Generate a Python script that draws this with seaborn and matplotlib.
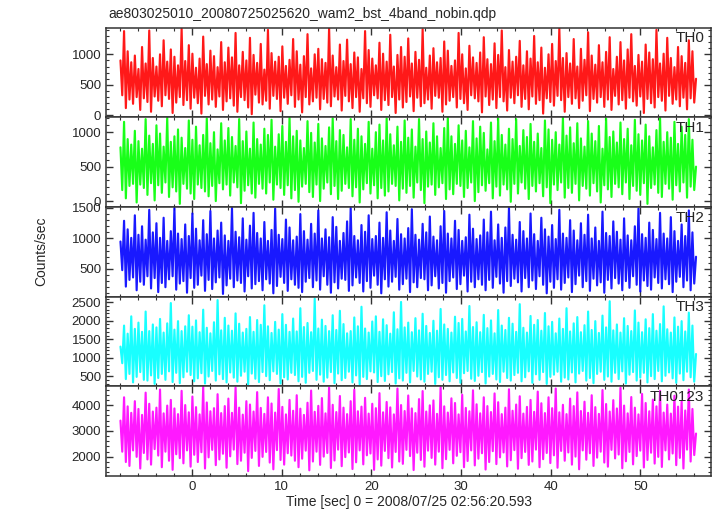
import numpy as np
import matplotlib
matplotlib.use("Agg")
import matplotlib.pyplot as plt
import seaborn as sns
from matplotlib.ticker import MultipleLocator

# light curve values (peaks / troughs of the noise)
th0 = [900,330,1380,120,1050,260,870,190,980,300,760,90,1120,280,850,220,1390,60,940,310,
       800,240,1000,150,1230,330,880,270,1080,40,960,210,820,300,1420,170,890,250,1150,110,
       1010,290,780,200,930,30,1290,320,840,180,1060,260,970,140,790,310,1200,90,870,230,
       1110,280,950,160,1350,60,820,300,1040,250,900,130,1270,20,990,340,860,210,1170,180,
       750,240,1400,110,1020,320,880,270,960,70,1130,290,810,190,910,330,1250,140,1050,260,
       830,50,970,300,1330,180,770,230,1000,290,1090,100,920,270,860,210,1430,150,980,310,
       790,260,1160,80,890,320,1240,230,840,120,1030,300,950,60,760,280,1380,200,1070,140,
       930,330,820,280,1190,90,1010,250,880,170,1320,300,800,40,990,260,1120,130,960,220,
       1260,310,850,70,1040,290,910,150,1410,200,780,260,980,110,1100,320,870,290,940,60,
       1210,180,1060,240,810,300,900,130,1350,270,1000,200,770,90,1140,330,950,280,860,230,
       1030,50,1280,310,920,170,840,260,1180,120,990,300,1390,230,790,80,1070,290,880,200,
       960,330,1220,140,820,270,1050,100,930,310,1300,190,870,250,1110,30,780,280,1000,220,
       1170,160,890,320,1420,250,940,60,1020,300,850,190,1250,280,800,120,1090,240,910,330,
       1360,70,980,270,830,210,1150,300,870,140,1040,260,1280,90,760,320,960,180,1200,250,
       900,110,1080,290,1330,230,810,160,990,310,880,40,1160,270,1030,200,920,130,1400,300,
       850,240,1010,80,1270,320,940,190,790,260,1120,150,970,290,860,100,1230,280,1050,210,
       600]
th1 = [780,160,1150,40,900,220,820,250,1020,-20,870,240,760,190,1190,90,950,260,830,10,
       1100,230,980,120,790,270,1210,60,860,200,940,140,1040,-40,920,250,770,180,1170,110,
       890,30,1080,240,810,190,960,140,1200,70,840,220,1000,0,750,260,1130,170,880,240,
       1060,80,930,270,800,200,1190,-30,870,150,1010,230,760,110,1140,50,900,250,820,180,
       1050,110,960,270,1180,20,790,240,970,190,1090,90,860,230,1210,40,940,160,1020,-10,
       880,210,770,250,1160,130,990,60,850,240,1120,0,910,180,800,270,1070,100,1200,220,
       870,30,1030,150,960,250,780,190,1190,70,890,200,1050,-20,940,170,830,260,1150,110,
       760,230,1000,40,1110,190,880,80,1200,140,970,250,810,220,1080,10,860,180,1170,120,
       920,220,1040,50,790,270,1190,160,900,-30,1010,210,850,240,1130,90,940,200,770,260,
       1060,30,1210,170,940,100,830,250,1100,220,880,60,1020,190,780,270,1160,0,910,130,
       1080,230,990,150,750,260,1140,40,870,210,1200,80,960,240,820,170,1050,-10,900,250,
       1190,110,800,270,1030,180,930,30,1120,220,860,140,980,260,770,70,1170,200,1040,-30,
       890,240,1000,160,820,270,1210,50,950,190,1070,120,840,250,1130,10,910,220,790,180,
       1160,80,980,260,870,140,1090,-20,760,230,1200,170,930,60,1010,250,850,200,1140,100,
       900,270,1050,30,810,220,1180,150,970,90,880,260,1110,-40,940,190,780,240,1030,120,
       1210,60,860,250,1000,180,920,20,1150,230,830,140,1080,270,960,50,1190,210,890,160,
       500]
th2 = [950,480,1290,210,1150,320,1010,360,1380,150,1060,290,1200,240,980,380,1470,180,1100,350,
       1250,120,1010,270,1340,200,960,330,1120,380,1500,160,1080,260,990,300,1230,110,1040,350,
       1410,190,1160,240,970,390,1300,140,1070,320,1450,170,1000,280,1130,360,1260,90,1050,230,
       960,340,1500,200,1110,310,1020,270,1330,130,980,380,1210,180,1420,250,1090,300,1000,150,
       1270,330,960,260,1140,100,1490,220,1060,370,990,270,1310,140,1180,330,970,240,1030,190,
       1400,120,1120,290,980,350,1240,200,1080,310,1460,160,1000,380,1150,240,1020,110,1350,280,
       1190,180,960,340,1090,320,1280,140,1500,230,1040,360,970,270,1220,130,1110,300,1380,190,
       990,390,1040,240,1260,100,1010,330,1430,210,1130,290,960,370,1320,160,1070,250,1000,340,
       1170,120,1480,280,1060,200,980,350,1240,330,1100,150,1360,230,1030,380,970,180,1200,270,
       1450,110,1080,300,1000,360,1290,170,1140,250,960,390,1020,130,1390,290,1160,200,990,330,
       1050,240,1310,150,1100,320,1440,190,970,370,1230,260,1010,110,1180,300,1500,220,1060,340,
       980,280,1270,130,1120,350,1000,200,1410,310,1070,170,960,380,1340,240,1150,100,1030,290,
       1220,190,990,330,1470,160,1080,270,1010,360,1300,120,1130,250,970,390,1250,200,1060,300,
       1390,140,1000,340,1180,230,960,280,1440,110,1090,320,1040,180,1280,350,1110,260,980,150,
       1330,300,1050,190,970,380,1200,240,1490,130,1070,310,1010,220,1260,160,1140,360,990,270,
       1420,180,1080,330,1000,250,1350,120,1120,290,960,370,1230,200,1040,310,1460,150,1100,260,
       700]
th3 = [1300,850,1870,420,1650,560,2120,330,1780,480,1950,610,1700,400,2250,380,1720,520,1900,290,
       1820,450,2050,560,1680,400,1930,630,2480,340,1760,590,1990,310,1720,470,1850,620,2150,530,
       1840,360,2010,440,1690,580,2300,300,1810,490,1660,640,1960,380,2560,550,1740,420,2080,330,
       1870,600,1730,460,2200,350,1920,510,1680,620,1780,280,2100,570,1700,430,2020,340,1890,610,
       2420,500,1850,390,1670,630,1970,560,1760,300,2180,470,1890,410,1700,590,2060,530,1710,360,
       2340,480,1830,320,1940,590,1690,640,2600,400,1790,540,2030,350,1860,460,1720,610,2150,310,
       1750,570,2270,390,1910,450,1660,620,1720,330,2090,520,1850,280,2380,480,1790,420,1680,630,
       1980,600,2120,340,1700,500,2040,370,1880,550,1650,610,2230,300,1770,440,2510,380,1820,590,
       1950,330,1690,640,2070,490,1740,410,2190,350,1860,560,1670,620,2000,290,1730,470,2320,400,
       1900,530,1780,360,1680,600,2110,450,1940,320,2050,580,1710,640,2400,430,1830,370,1960,510,
       1690,610,2160,300,1800,490,2010,560,1660,410,2290,340,1870,620,1750,450,2080,380,1920,530,
       1700,590,2450,360,1810,470,1680,630,2130,320,1890,550,2020,400,1730,610,2210,290,1850,480,
       1970,540,1660,620,2060,350,1780,460,2340,410,1710,600,1930,330,2100,570,1690,640,1880,380,
       2250,450,1750,310,1990,560,1670,620,2140,400,1820,490,2530,350,1740,590,1900,420,1680,630,
       2070,300,1860,540,1720,610,2280,380,1950,460,1690,590,2040,330,1800,500,2180,420,1730,640,
       1910,360,2390,510,1770,600,1680,440,2090,320,1840,570,1990,390,1710,620,2220,470,1870,350,
       1100]
th0123 = [3400,2200,4300,1800,3950,1650,3700,2250,4150,2000,3850,1550,3620,2150,4480,1900,4050,1700,3750,2300,
          3900,2050,4600,1600,3680,2200,3980,1850,4200,1500,3870,2100,3650,1950,4550,1750,4000,2250,3720,1620,
          4330,2080,3920,1800,3640,2180,4700,1550,4100,1980,3760,2270,3880,1680,4420,1900,3690,2120,3960,1580,
          4250,2020,3700,2280,4680,1720,3900,1850,3630,2160,4150,1450,4020,1960,3750,2230,4500,1650,3890,2000,
          3660,2190,4300,1780,4060,1520,3710,2260,4620,1880,3930,1700,3640,2140,4200,2050,3780,1850,4380,1600,
          3860,1930,3620,2240,4090,1480,4560,1820,3740,2200,3970,1690,4270,2010,3680,2150,4680,1570,4010,1860,
          3730,2280,4350,1640,3900,1990,3650,2170,4150,1530,4590,1790,3760,2250,3940,1710,4280,2060,3670,2130,
          4050,1500,3880,1900,4460,1660,3720,2230,4120,1950,3910,1590,3640,2190,4640,1820,4000,1730,3770,2270,
          4370,2030,3870,1490,3690,2160,4230,1880,4540,1620,3750,2240,3990,1960,4180,1700,3660,2200,4690,1560,
          3950,1910,3710,2270,4260,1750,4080,2040,3640,2180,4400,1600,3890,1840,3760,2250,4570,1670,4030,1930,
          3680,2140,4300,1510,3960,1800,3730,2220,4450,1720,4110,1980,3650,2170,3900,1630,4610,1870,3780,2260,
          4020,1540,4340,1950,3670,2190,3930,1690,4200,1820,3740,2280,4520,1600,4070,1910,3690,2150,4300,1760,
          3880,2060,4640,1580,3720,2230,4010,1850,3650,2170,4250,1700,3960,2010,4490,1520,3770,2250,4130,1890,
          3700,2140,4380,1650,3920,1970,3660,2200,4580,1780,4040,1620,3750,2270,4190,1940,3870,2090,4670,1560,
          3980,1830,3680,2190,4310,1710,3900,2030,3640,2240,4430,1590,4080,1880,3760,2160,4210,1740,3950,2000,
          4550,1610,3710,2250,4020,1900,3670,2130,4360,1680,3940,1960,4140,1550,3790,2280,4600,1820,3850,2070,
          2900]

names = ["TH0", "TH1", "TH2", "TH3", "TH0123"]
series = [th0, th1, th2, th3, th0123]
colors = ["#ff0000", "#00ff00", "#0000ff", "#00ffff", "#ff00ff"]
ylims = [(-33, 1433), (-86, 1214), (46, 1516), (228, 2655), (1270, 4730)]
ymajor = [500, 500, 500, 500, 1000]
yminor = [100, 100, 100, 100, 200]
t_start, t_end = -8.0, 56.2

sns.set_style("ticks")
plt.rcParams['font.family'] = ['Liberation Sans', 'DejaVu Sans']

fig, axes = plt.subplots(5, 1, sharex=True, figsize=(7.17, 5.16), dpi=100)
fig.subplots_adjust(left=0.148, right=0.992, top=0.946, bottom=0.078, hspace=0)

for ax, name, vals, c, yl, ma, mi in zip(axes, names, series, colors, ylims, ymajor, yminor):
    t = np.linspace(t_start, t_end, len(vals))
    sns.lineplot(x=t, y=vals, ax=ax, color=c, lw=1.55, alpha=0.9, estimator=None)
    ax.set_ylim(*yl)
    ax.set_xlim(-9.6, 57.9)
    ax.yaxis.set_major_locator(MultipleLocator(ma))
    ax.yaxis.set_minor_locator(MultipleLocator(mi))
    ax.xaxis.set_major_locator(MultipleLocator(10))
    ax.xaxis.set_minor_locator(MultipleLocator(2))
    ax.tick_params(which='both', direction='in', top=True, right=True, labelsize=9.5, color='#333333')
    ax.tick_params(which='major', length=5, width=1)
    ax.tick_params(which='minor', length=2.5, width=0.8)
    for s in ax.spines.values():
        s.set_linewidth(1.1)
        s.set_color('#333333')
    ax.set_ylabel("")
    ax.text(0.988, 0.96, name, transform=ax.transAxes, ha='right', va='top', fontsize=11)

axes[-1].set_xlabel("Time [sec] 0 = 2008/07/25 02:56:20.593", fontsize=10, labelpad=2)
fig.text(0.058, 0.513, "Counts/sec", rotation=90, ha='center', va='center', fontsize=10)
fig.text(0.151, 0.973, "ae803025010_20080725025620_wam2_bst_4band_nobin.qdp", ha='left', va='center', fontsize=10)

fig.savefig("out.png", dpi=100)
